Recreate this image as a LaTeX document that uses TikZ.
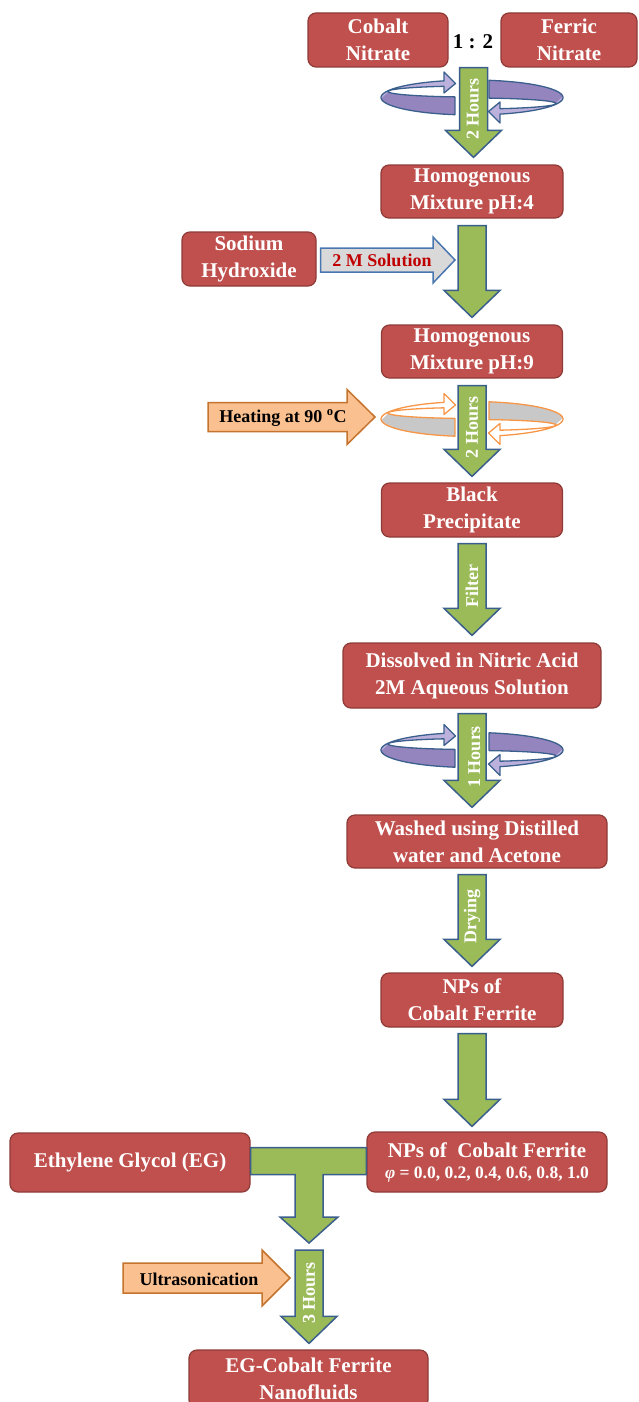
\documentclass[tikz,border=0pt]{standalone}
\usepackage{fontspec}
\setmainfont{Liberation Serif}
\usepackage{xcolor}
\usetikzlibrary{calc}
\definecolor{boxred}{HTML}{C0504D}
\definecolor{boxedge}{HTML}{8E3A37}
\definecolor{arrowgreen}{HTML}{9BBB59}
\definecolor{arrowedge}{HTML}{3A5F8C}
\definecolor{ringlight}{HTML}{BCB0DC}
\definecolor{ringdark}{HTML}{9585BF}
\definecolor{ringgray}{HTML}{C8C8C8}
\definecolor{ringorange}{HTML}{F79646}
\definecolor{heatfill}{HTML}{FAC090}
\definecolor{heatedge}{HTML}{C5732D}
\definecolor{solfill}{HTML}{D9D9D9}
\definecolor{soledge}{HTML}{4A76B0}
\definecolor{soltext}{HTML}{C00000}
\tikzset{procbox/.style={draw=boxedge,fill=boxred,line width=1.2pt,rounded corners=8pt,text=white,align=center,
    inner sep=0pt,font=\fontsize{21}{27}\selectfont\bfseries},
  greenblock/.style={draw=arrowedge,fill=arrowgreen,line width=1.5pt},
  hourtext/.style={text=white,inner sep=0pt,font=\fontsize{18}{18}\selectfont\bfseries},
  sidetext/.style={inner sep=0pt,font=\fontsize{18}{18}\selectfont\bfseries}}
\newcommand{\downblock}[4]{%
  \draw[greenblock] let \p1=(#1), \p2=(#2) in
    (\x1-14pt,\y1) -- (\x1+14pt,\y1) -- (\x1+14pt,\y2+27pt) -- (\x1+28pt,\y2+27pt)
    -- (\x1,\y2) -- (\x1-28pt,\y2+27pt) -- (\x1-14pt,\y2+27pt) -- cycle;
  \node[hourtext,rotate=90] (#4) at ($(#1)!0.46!(#2)$) {#3};}
\newcommand{\rightblock}[6]{%
  \draw[#6] let \p1=(#1), \p2=(#2) in
    (\x1,\y2+#3) -- (\x2-#5,\y2+#3) -- (\x2-#5,\y2+#4) -- (\x2,\y2)
    -- (\x2-#5,\y2-#4) -- (\x2-#5,\y2-#3) -- (\x1,\y2-#3) -- cycle;}
\newcommand{\ringhalf}{plot[domain=100.8:252.1,samples=40] ({91*cos(\x)},{17.5*sin(\x)}) -- (-28,-25.5) -- (-16.5,-14)
  -- (-28,-4.5) -- plot[domain=250.5:101.7,samples=40] ({84*cos(\x)},{-6+5.5*sin(\x)}) -- cycle}
\newcommand{\stirring}[4]{%
  \foreach \turn in {0,180}{
    \begin{scope}[shift={(#1)},rotate=\turn]
      \fill[#2] \ringhalf;
      \fill[#3] plot[domain=100.8:176,samples=30] ({91*cos(\x)},{17.5*sin(\x)})
        -- plot[domain=176:101.7,samples=30] ({84*cos(\x)},{-6+5.5*sin(\x)}) -- cycle;
      \draw[#4,line width=1.3pt,line join=round] \ringhalf;
    \end{scope}}}

\begin{document}
\begin{tikzpicture}[x=1pt,y=-1pt]
\useasboundingbox (0,0) rectangle (639,1402);
\node[procbox,minimum width=140pt,minimum height=54pt] (cobalt) at (378,40) {Cobalt\\Nitrate};
\node[procbox,minimum width=136pt,minimum height=54pt] (ferric) at (569,40) {Ferric\\Nitrate};
\node[inner sep=0pt,font=\fontsize{21}{21}\selectfont\bfseries] (ratio) at (473,42) {1 : 2};
\node[procbox,minimum width=182pt,minimum height=53pt] (mixa) at (472,191.5) {Homogenous\\Mixture pH:4};
\node[procbox,minimum width=134pt,minimum height=54pt] (naoh) at (249,259) {Sodium\\Hydroxide};
\node[procbox,minimum width=181pt,minimum height=53pt] (mixb) at (472,351.5) {Homogenous\\Mixture pH:9};
\node[procbox,minimum width=181pt,minimum height=54pt] (black) at (472,510) {Black\\Precipitate};
\node[procbox,minimum width=258pt,minimum height=65pt] (nitric) at (472,675.5) {Dissolved in Nitric Acid\\2M Aqueous Solution};
\node[procbox,minimum width=260pt,minimum height=53pt] (washed) at (477,841.5) {Washed using Distilled\\water and Acetone};
\node[procbox,minimum width=182pt,minimum height=54pt] (npsa) at (472,1000) {NPs of\\Cobalt Ferrite};
\node[procbox,minimum width=240pt,minimum height=59pt] (glycol) at (130,1162.5) {Ethylene Glycol (EG)};
\node[procbox,minimum width=240pt,minimum height=60pt] (npsb) at (487,1162)
  {NPs of\ \ Cobalt Ferrite\\[-6pt]{\fontsize{17.5}{17.5}\selectfont\textit{φ} = 0.0, 0.2, 0.4, 0.6, 0.8, 1.0}};
\node[procbox,minimum width=239pt,minimum height=58pt] (fluid) at (308.5,1379) {EG-Cobalt Ferrite\\Nanofluids};

\coordinate (t1) at ($(cobalt.south)!0.5!(ferric.south)$);
\coordinate (b1) at ($(mixa.north)+(0,-7)$);
\coordinate (t2) at ($(mixa.south)+(0,7)$);
\coordinate (b2) at ($(mixb.north)+(0,-7)$);
\coordinate (t3) at ($(mixb.south)+(0,7)$);
\coordinate (b3) at ($(black.north)+(0,-6)$);
\coordinate (t4) at ($(black.south)+(0,6)$);
\coordinate (b4) at ($(nitric.north)+(0,-7)$);
\coordinate (t5) at ($(nitric.south)+(0,5)$);
\coordinate (b5) at ($(washed.north)+(0,-7)$);
\coordinate (t6) at ($(washed.south -| npsa.south)+(0,6)$);
\coordinate (b6) at ($(npsa.north)+(0,-6)$);
\coordinate (t7) at ($(npsa.south)+(0,6)$);
\coordinate (b7) at ($(npsa.south |- npsb.north)+(0,-5)$);
\coordinate (tee) at (309,1243);
\coordinate (t8) at ($(tee)+(0,7)$);
\coordinate (b8) at ($(fluid.north -| tee)+(0,-6)$);

\stirring{472,97.5}{ringlight}{ringdark}{arrowedge}
\stirring{472,419}{white}{ringgray}{ringorange}
\stirring{472,750}{ringlight}{ringdark}{arrowedge}

\downblock{t1}{b1}{2 Hours}{hrsa}
\downblock{t2}{b2}{}{plain}
\downblock{t3}{b3}{2 Hours}{hrsb}
\downblock{t4}{b4}{Filter}{filter}
\downblock{t5}{b5}{1 Hours}{hrsc}
\downblock{t6}{b6}{Drying}{drying}
\downblock{t7}{b7}{}{plainb}
\downblock{t8}{b8}{3 Hours}{hrsd}

\draw[greenblock] let \p1=(glycol.east), \p2=(npsb.west), \p3=(tee) in
  (\x1,\y1+15pt) -- (\x2,\y1+15pt) -- (\x2,\y1-12pt) -- (\x3+14pt,\y1-12pt) -- (\x3+14pt,\y3+26pt)
  -- (\x3+29pt,\y3+26pt) -- (\x3,\y3) -- (\x3-29pt,\y3+26pt) -- (\x3-14pt,\y3+26pt) -- (\x3-14pt,\y1-12pt)
  -- (\x1,\y1-12pt) -- cycle;

\coordinate (soltail) at ($(naoh.east)+(4,0)$);
\coordinate (soltip) at (455,260);
\rightblock{soltail}{soltip}{12pt}{23pt}{22pt}{draw=soledge,fill=solfill,line width=1.5pt}
\node[sidetext,text=soltext] (sol) at (382,260) {2 M Solution};
\coordinate (heattail) at (208,417);
\coordinate (heattip) at (375,417);
\rightblock{heattail}{heattip}{14.5pt}{27.5pt}{28pt}{draw=heatedge,fill=heatfill,line width=1.5pt}
\node[sidetext] (heat) at (283,418) {Heating at 90 \textsuperscript{o}C};
\coordinate (sonictail) at (123,1278);
\coordinate (sonictip) at (290,1278);
\rightblock{sonictail}{sonictip}{15pt}{28pt}{28pt}{draw=heatedge,fill=heatfill,line width=1.5pt}
\node[sidetext] (sonic) at (199,1279) {Ultrasonication};
\end{tikzpicture}
\end{document}
